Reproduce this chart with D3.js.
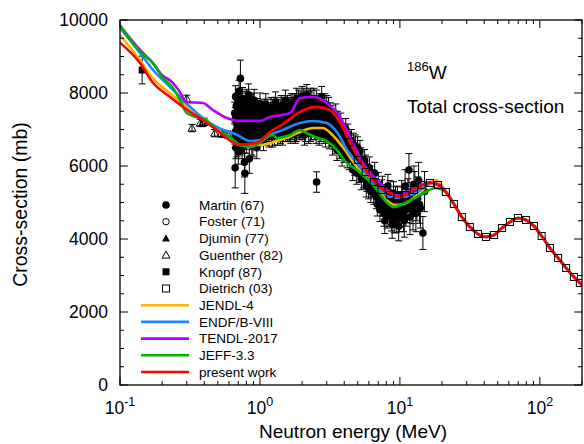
<!DOCTYPE html>
<html>
<head>
<meta charset="utf-8">
<script src="https://d3js.org/d3.v7.min.js"></script>
<style>
  body { margin: 0; background: #fff; }
  svg { display: block; font-family: "Liberation Sans", Arial, sans-serif; }
</style>
</head>
<body>
<svg id="chart" width="584" height="444"></svg>
<script>
// ---- experimental data: [energy MeV, cross-section mb, error mb] ----
const martin = [
  [0.66,7450,300],[0.665,5950,550],[0.67,7900,300],[0.675,6800,300],[0.68,7200,300],[0.685,6600,350],
  [0.69,7700,300],[0.695,7000,300],[0.70,6400,350],[0.705,7500,300],[0.71,8050,300],[0.715,6900,300],
  [0.72,7300,300],[0.725,8400,500],[0.73,6700,300],[0.735,7600,300],[0.74,7100,300],[0.745,6500,300],
  [0.75,7850,300],[0.76,6850,300],[0.77,7400,300],[0.775,6100,400],[0.78,5800,550],[0.785,7750,300],
  [0.79,7050,300],[0.80,6650,300],[0.81,7500,300],[0.82,6950,300],[0.83,7950,300],[0.84,6200,400],
  [0.85,7250,300],[0.86,6750,300],[0.87,7600,300],[0.88,7000,300],[0.89,6550,300],[0.90,7400,300],
  [0.91,7800,300],[0.92,6900,300],[0.94,7150,300],[0.95,6500,300],[0.96,7550,300],[0.98,6850,300],
  [0.99,7300,300],[1.0,7700,300],
  [0.662,6900,300],[0.668,7300,300],[0.672,6500,300],[0.678,7650,300],[0.682,7000,300],[0.688,7350,300],
  [0.692,6750,300],[0.698,7800,300],[0.702,7150,300],[0.708,6850,300],[0.712,7350,300],[0.718,7600,300],
  [0.722,6600,300],[0.728,7000,300],[0.732,7450,300],[0.738,6900,300],[0.742,7700,300],[0.748,7250,300],
  [0.755,6650,300],[0.765,7550,300],[0.772,7100,300],[0.782,6750,300],[0.795,7350,300],[0.805,7800,300],
  [0.815,6900,300],[0.825,7150,300],[0.835,7450,300],[0.845,6850,300],[0.855,7650,300],[0.865,7050,300],
  [0.875,6600,300],[0.885,7350,300],[0.895,7700,300],[0.905,6850,300],[0.915,7150,300],[0.93,7450,300],
  [0.945,6750,300],[0.955,7250,300],[0.97,7000,300],[0.985,7500,300],
  [1.01,7150,280],[1.02,6950,280],[1.04,7450,280],[1.06,6700,280],[1.07,7550,280],[1.08,7250,280],
  [1.10,7700,280],[1.12,6850,280],[1.13,7100,280],[1.15,7350,280],[1.18,7050,280],[1.20,7600,280],
  [1.22,7350,280],[1.23,6800,280],[1.26,7200,280],[1.29,7750,280],[1.31,7150,280],[1.32,6950,280],
  [1.35,7400,280],[1.38,7100,280],[1.40,6900,280],[1.42,7650,280],[1.45,6850,280],[1.48,7300,280],
  [1.50,7100,280],[1.52,7800,280],[1.55,7000,280],[1.59,7450,280],[1.61,7250,280],[1.63,6950,280],
  [1.67,7700,280],[1.71,7200,280],[1.73,7050,280],[1.75,7550,280],[1.79,6900,280],[1.83,7850,280],
  [1.85,7400,280],[1.87,7250,280],[1.91,7600,280],
  [1.03,7200,280],[1.05,7000,280],[1.09,7400,280],[1.11,6950,280],[1.14,7550,280],[1.16,6800,280],
  [1.17,7200,280],[1.19,7450,280],[1.21,6950,280],[1.24,7550,280],[1.25,7050,280],[1.27,6850,280],
  [1.28,7400,280],[1.30,7600,280],[1.33,7250,280],[1.34,6850,280],[1.36,7550,280],[1.37,7000,280],
  [1.39,7300,280],[1.41,7500,280],[1.43,7050,280],[1.44,7300,280],[1.46,7600,280],[1.47,6950,280],
  [1.49,7450,280],[1.51,7250,280],[1.53,6950,280],[1.54,7550,280],[1.56,7200,280],[1.57,7650,280],
  [1.58,6950,280],[1.60,7350,280],[1.62,7600,280],[1.64,7100,280],[1.65,7450,280],[1.66,6900,280],
  [1.68,7300,280],[1.69,7550,280],[1.70,7000,280],[1.72,7700,280],[1.74,7300,280],[1.76,6950,280],
  [1.77,7450,280],[1.78,7700,280],[1.80,7150,280],[1.81,7550,280],[1.82,6950,280],[1.84,7350,280],
  [1.86,7650,280],[1.88,7050,280],[1.89,7800,280],[1.90,7300,280],[1.92,7000,280],[1.93,7550,280],
  [1.95,7050,280],[1.97,7400,280],[2.0,7900,280],[2.04,7350,280],[2.07,7150,280],[2.08,6850,280],
  [2.12,7650,280],[2.16,7950,280],[2.18,7500,280],[2.2,7150,280],[2.25,7500,280],[2.3,6950,280],
  [2.32,7250,280],[2.35,7800,280],[2.4,7300,280],[2.45,7000,280],[2.47,7150,280],[2.5,7650,280],
  [2.54,5560,280],[2.6,7200,280],[2.62,7450,280],[2.65,6850,280],[2.7,7550,280],[2.76,7900,280],
  [2.79,7250,280],[2.82,7050,280],[2.88,7400,280],[2.94,6800,280],[2.97,7350,280],[3.0,7650,280],
  [3.06,7150,280],[3.12,6750,280],[3.15,7050,280],[3.18,7450,280],
  [1.96,7750,280],[1.98,7200,280],[1.99,7550,280],[2.02,7000,280],[2.03,7700,280],[2.05,7400,280],
  [2.06,7850,280],[2.09,7200,280],[2.10,7550,280],[2.11,6950,280],[2.14,7350,280],[2.15,7800,280],
  [2.17,7100,280],[2.19,7650,280],[2.22,7350,280],[2.23,6900,280],[2.24,7750,280],[2.27,7100,280],
  [2.28,7550,280],[2.29,7850,280],[2.33,7000,280],[2.34,7450,280],[2.37,7650,280],[2.38,7100,280],
  [2.42,7550,280],[2.43,7850,280],[2.48,7400,280],[2.52,6900,280],[2.53,7800,280],[2.57,7300,280],
  [2.58,7600,280],[2.63,7050,280],[2.67,7700,280],[2.68,7300,280],[2.72,6950,280],[2.74,7350,280],
  [2.78,7650,280],[2.84,7450,280],[2.86,6900,280],[2.91,7700,280],[2.92,7200,280],[2.99,6950,280],
  [3.03,7400,280],[3.09,7600,280],[3.14,7250,280],[3.2,6900,280],
  [3.25,7350,300],[3.3,6600,300],[3.36,7100,300],[3.42,6900,300],[3.48,7400,300],[3.55,6450,300],
  [3.62,7000,300],[3.7,6700,300],[3.78,7150,300],[3.86,6300,300],[3.94,6850,300],[4.02,6550,300],
  [4.1,7000,300],[4.2,6250,300],[4.3,6650,300],[4.4,6400,300],
  [3.22,7100,300],[3.28,6850,300],[3.33,7250,300],[3.39,6750,300],[3.45,7200,300],[3.51,6650,300],
  [3.58,7200,300],[3.66,6900,300],[3.74,6500,300],[3.82,6850,300],[3.9,7000,300],[3.98,6400,300],
  [4.06,6800,300],[4.15,6450,300],[4.25,6850,300],[4.35,6200,300],
  [4.5,6700,300],[4.6,5900,300],[4.7,6300,300],[4.8,6550,300],[4.92,5800,300],[5.05,6100,300],
  [5.18,6400,300],[5.3,5650,300],[5.45,5950,300],[5.6,6150,300],[5.75,5450,300],[5.9,5750,300],
  [6.05,5950,300],[6.2,5300,300],[6.4,5600,300],[6.6,5800,300],
  [4.45,6450,300],[4.55,6250,300],[4.65,6600,300],[4.75,6050,300],[4.86,6300,300],[4.98,6500,300],
  [5.1,5850,300],[5.24,6200,300],[5.37,5900,300],[5.52,5700,300],[5.67,6000,300],[5.82,5600,300],
  [5.97,5400,300],[6.12,5700,300],[6.3,5450,300],[6.5,5250,300],
  [6.8,5150,320],[7.0,5500,320],[7.2,4800,320],[7.4,5300,320],[7.6,4950,320],[7.8,4500,350],
  [8.0,5150,320],[8.2,5450,320],[8.4,4700,350],[8.6,5000,320],[8.8,4400,380],[9.0,5250,320],
  [9.2,4800,350],[9.4,4550,380],[9.6,5100,350],[9.8,4350,400],[10.0,4900,380],
  [6.7,5450,320],[6.9,4950,320],[7.1,5200,320],[7.3,5050,320],[7.5,5400,320],[7.7,4700,350],
  [7.9,4850,350],[8.1,4650,350],[8.3,5000,350],[8.5,5250,350],[8.7,4600,380],[8.9,4850,380],
  [9.1,4550,380],[9.3,5050,380],[9.5,4700,380],[9.7,4900,400],[9.9,4600,400],
  [10.3,5200,400],[10.6,4650,450],[10.9,5450,450],[11.2,4900,450],[11.6,5890,450],[12.0,5100,450],
  [12.4,4750,500],[12.8,5350,500],[13.2,5000,500],[13.6,5600,500],[14.0,4850,550],[14.6,4164,450],
  [15.0,5300,550],
  [10.15,4750,420],[10.45,5000,420],[10.75,4500,450],[11.05,4800,450],[11.4,5200,450],[11.8,4600,480],
  [12.2,4900,480],[12.6,5500,500],[13.0,4700,500],[13.4,5200,500],[13.8,4950,520]
];
const foster = [[2.2,7400,250],[3.0,7200,250],[4.0,6600,250],[5.5,6000,250],[8.0,5100,250]];
const djumin = [[1.5,7200,250],[2.5,7400,250],[4.5,6500,250],[7.0,5300,250]];
const guenther = [[0.30,7840,100],[0.327,7040,100],[0.375,7180,100],[0.39,7180,100],[0.40,7210,100],
  [0.475,6900,100],[0.53,6890,100],[0.55,6880,100],[0.59,6860,100]];
const knopf = [[0.144,8630,380]];
const dietrich = [
  [4.39,6650],[5.0,6165],[5.7,5836],[6.5,5560],[7.4,5343],[8.5,5205],[9.6,5150],[11.0,5205],
  [12.6,5343],[14.3,5480],[16.4,5535],[18.7,5480],[21.3,5288],[24.3,4960],[27.7,4600],[31.6,4330],
  [36.1,4137],[41.2,4055],[47.0,4110],[53.6,4300],[61.1,4466],[69.7,4575],[79.5,4520],[90.7,4356],
  [103,4083],[118,3754],[135,3480],[154,3205],[175,2960],[193,2795]
];

// ---- evaluations: [energy MeV, cross-section mb] ----
const tail = [[21.3,5290],[24.3,4960],[27.7,4600],[31.6,4330],[36.1,4137],[41.2,4055],[47,4110],
  [53.6,4300],[61.1,4466],[69.7,4575],[79.5,4520],[90.7,4356],[103,4083],[118,3754],[135,3480],
  [154,3205],[175,2960],[200,2740]];
const jendl = [[0.1,9590],[0.139,8900],[0.172,8400],[0.228,7990],[0.301,7620],[0.39,7330],[0.49,7040],
  [0.72,6575],[1.0,6575],[1.25,6660],[1.6,6795],[1.93,6930],[2.39,7041],[2.8,7041],[3.3,6850],
  [3.9,6520],[4.93,5973],[6.6,5479],[8.0,5068],[9.2,4932],[10.5,4950],[13.3,5206],[18.4,5617]];
const endf = [[0.1,9780],[0.139,9100],[0.172,8630],[0.228,8165],[0.301,7700],[0.39,7315],[0.49,7070],
  [0.69,6850],[0.85,6686],[1.0,6713],[1.18,6850],[1.46,6990],[1.93,7180],[2.39,7233],[3.0,7180],
  [3.54,6930],[4.2,6440],[5.45,5890],[6.84,5425],[8.5,5150],[10,5123],[13.3,5288],[17,5535],[18.7,5500]];
const tendl = [[0.1,9850],[0.139,9180],[0.172,8820],[0.2,8490],[0.236,8300],[0.262,8080],[0.30,7750],
  [0.39,7726],[0.46,7535],[0.58,7315],[0.72,7235],[1.0,7235],[1.18,7340],[1.64,7450],[1.93,7860],
  [2.4,7890],[3.0,7726],[3.73,7343],[4.39,6800],[5.45,6082],[7.2,5534],[9.5,5205],[13.3,5425],
  [16.4,5560],[18.7,5500]];
const jeff = [[0.1,9850],[0.139,9125],[0.172,8820],[0.2,8440],[0.236,8165],[0.262,7890],[0.30,7450],
  [0.35,7343],[0.41,7260],[0.49,6987],[0.61,6795],[0.72,6575],[0.85,6520],[1.0,6630],[1.11,6768],
  [1.23,6850],[1.33,6768],[1.46,6795],[1.64,6850],[1.93,6987],[2.16,6905],[2.47,6795],[2.9,6713],
  [3.54,6440],[4.1,6110],[4.93,5890],[6.6,5425],[8.0,5014],[9.0,4877],[10.9,4987],[14.0,5206],
  [18.0,5398]];
const present = [[0.1,9380],[0.139,8820],[0.172,8280],[0.228,7890],[0.301,7540],[0.39,7260],
  [0.49,6990],[0.72,6580],[0.95,6630],[1.18,6930],[1.46,7150],[1.93,7480],[2.5,7620],[3.16,7530],
  [3.73,7200],[4.39,6650],[5.45,6000],[6.84,5480],[8.5,5260],[10,5150],[12.6,5340],[16.4,5535],
  [18.7,5480]];

const curveNames = ["JENDL-4", "ENDF/B-VIII", "TENDL-2017", "JEFF-3.3", "present work"];
const curveColors = ["#ffb400", "#1e88ff", "#b400ff", "#00b400", "#ff0000"];
const pointNames = ["Martin (67)", "Foster (71)", "Djumin (77)", "Guenther (82)", "Knopf (87)", "Dietrich (03)"];
const xMajor = [0.1, 1, 10, 100];
const xExp = ["-1", "0", "1", "2"];
const yMajor = [0, 2000, 4000, 6000, 8000, 10000];

const svg = d3.select("#chart");
const L = 120, R = 582, T = 20, B = 385;
const x = d3.scaleLog().domain([0.1, 200]).range([L, R]);
const y = d3.scaleLinear().domain([0, 10000]).range([B, T]);

svg.append("defs").append("clipPath").attr("id", "clip")
  .append("rect").attr("x", L).attr("y", T).attr("width", R - L).attr("height", B - T);
const plot = svg.append("g").attr("clip-path", "url(#clip)");

// error bars + markers
function errorBars(g, data) {
  data.forEach(d => {
    const cx = x(d[0]), y1 = y(d[1] - d[2]), y2 = y(d[1] + d[2]);
    g.append("line").attr("x1", cx).attr("x2", cx).attr("y1", y1).attr("y2", y2);
    g.append("line").attr("x1", cx - 3.5).attr("x2", cx + 3.5).attr("y1", y1).attr("y2", y1);
    g.append("line").attr("x1", cx - 3.5).attr("x2", cx + 3.5).attr("y1", y2).attr("y2", y2);
  });
}
function marker(g, kind, cx, cy) {
  if (kind === "fc") g.append("circle").attr("cx", cx).attr("cy", cy).attr("r", 3.8).attr("fill", "#000");
  if (kind === "oc") g.append("circle").attr("cx", cx).attr("cy", cy).attr("r", 3.2).attr("fill", "none").attr("stroke", "#000");
  if (kind === "ft") g.append("path").attr("d", `M${cx},${cy - 4}L${cx + 4},${cy + 3}L${cx - 4},${cy + 3}Z`).attr("fill", "#000");
  if (kind === "ot") g.append("path").attr("d", `M${cx},${cy - 4}L${cx + 4},${cy + 3}L${cx - 4},${cy + 3}Z`).attr("fill", "none").attr("stroke", "#000");
  if (kind === "fs") g.append("rect").attr("x", cx - 3.5).attr("y", cy - 3.5).attr("width", 7).attr("height", 7).attr("fill", "#000");
  if (kind === "os") g.append("rect").attr("x", cx - 3.5).attr("y", cy - 3.5).attr("width", 7).attr("height", 7).attr("fill", "none").attr("stroke", "#000");
}
const eb = plot.append("g").attr("stroke", "#000").attr("stroke-width", 1);
[foster, djumin, guenther, knopf, martin].forEach(s => errorBars(eb, s));
const mk = plot.append("g");
foster.forEach(d => marker(mk, "oc", x(d[0]), y(d[1])));
djumin.forEach(d => marker(mk, "ft", x(d[0]), y(d[1])));
guenther.forEach(d => marker(mk, "ot", x(d[0]), y(d[1])));
knopf.forEach(d => marker(mk, "fs", x(d[0]), y(d[1])));
martin.forEach(d => marker(mk, "fc", x(d[0]), y(d[1])));

// evaluated curves
const line = d3.line().x(d => x(d[0])).y(d => y(d[1])).curve(d3.curveMonotoneX);
[jendl, endf, tendl, jeff, present].forEach((s, i) => {
  plot.append("path").datum(s.concat(tail)).attr("d", line)
    .attr("fill", "none").attr("stroke", curveColors[i]).attr("stroke-width", 2.6)
    .attr("stroke-linejoin", "round");
});

// Dietrich squares on top
const dg = plot.append("g");
dietrich.forEach(d => marker(dg, "os", x(d[0]), y(d[1])));

// frame and ticks (inward on all sides)
const ax = svg.append("g").attr("stroke", "#000").attr("stroke-width", 1);
const xMinor = [];
[0.1, 1, 10, 100].forEach(dec => { for (let k = 2; k <= 9; k++) if (dec * k <= 200) xMinor.push(dec * k); });
xMajor.forEach(v => {
  ax.append("line").attr("x1", x(v)).attr("x2", x(v)).attr("y1", B).attr("y2", B - 8);
  ax.append("line").attr("x1", x(v)).attr("x2", x(v)).attr("y1", T).attr("y2", T + 8);
});
xMinor.forEach(v => {
  ax.append("line").attr("x1", x(v)).attr("x2", x(v)).attr("y1", B).attr("y2", B - 4);
  ax.append("line").attr("x1", x(v)).attr("x2", x(v)).attr("y1", T).attr("y2", T + 4);
});
d3.range(0, 10001, 500).forEach(v => {
  const len = v % 2000 === 0 ? 8 : 4;
  ax.append("line").attr("x1", L).attr("x2", L + len).attr("y1", y(v)).attr("y2", y(v));
  ax.append("line").attr("x1", R).attr("x2", R - len).attr("y1", y(v)).attr("y2", y(v));
});
svg.append("rect").attr("x", L).attr("y", T).attr("width", R - L).attr("height", B - T)
  .attr("fill", "none").attr("stroke", "#000").attr("stroke-width", 1.3);

// tick labels
yMajor.forEach(v => {
  svg.append("text").attr("x", L - 12).attr("y", y(v)).attr("dy", "0.35em")
    .attr("text-anchor", "end").attr("font-size", 17.5).text(v);
});
xMajor.forEach((v, i) => {
  const t = svg.append("text").attr("x", x(v)).attr("y", 414).attr("text-anchor", "middle").attr("font-size", 17.5);
  t.append("tspan").text("10");
  t.append("tspan").attr("dy", -8).attr("font-size", 12.5).text(xExp[i]);
});

// axis titles
svg.append("text").attr("x", (L + R) / 2 + 2).attr("y", 438).attr("text-anchor", "middle")
  .attr("font-size", 19).text("Neutron energy (MeV)");
svg.append("text").attr("transform", `translate(27,${(T + B) / 2 + 2}) rotate(-90)`)
  .attr("text-anchor", "middle").attr("font-size", 19.5).text("Cross-section (mb)");

// annotation
const ann = svg.append("text").attr("x", 407).attr("y", 79).attr("font-size", 19);
ann.append("tspan").attr("font-size", 13).attr("dy", -8).text("186");
ann.append("tspan").attr("dy", 8).text("W");
svg.append("text").attr("x", 407).attr("y", 113).attr("font-size", 19).text("Total cross-section");

// legend
const lg = svg.append("g");
const kinds = ["fc", "oc", "ft", "ot", "fs", "os"];
const rowY = i => 205 + i * 16.7;
pointNames.forEach((n, i) => {
  marker(lg, kinds[i], 166, rowY(i));
  lg.append("text").attr("x", 199).attr("y", rowY(i)).attr("dy", "0.35em").attr("font-size", 13.5).text(n);
});
curveNames.forEach((n, i) => {
  const yy = rowY(i + 6);
  lg.append("line").attr("x1", 141).attr("x2", 189).attr("y1", yy).attr("y2", yy)
    .attr("stroke", curveColors[i]).attr("stroke-width", 2.6);
  lg.append("text").attr("x", 199).attr("y", yy).attr("dy", "0.35em").attr("font-size", 13.5).text(n);
});
</script>
</body>
</html>
